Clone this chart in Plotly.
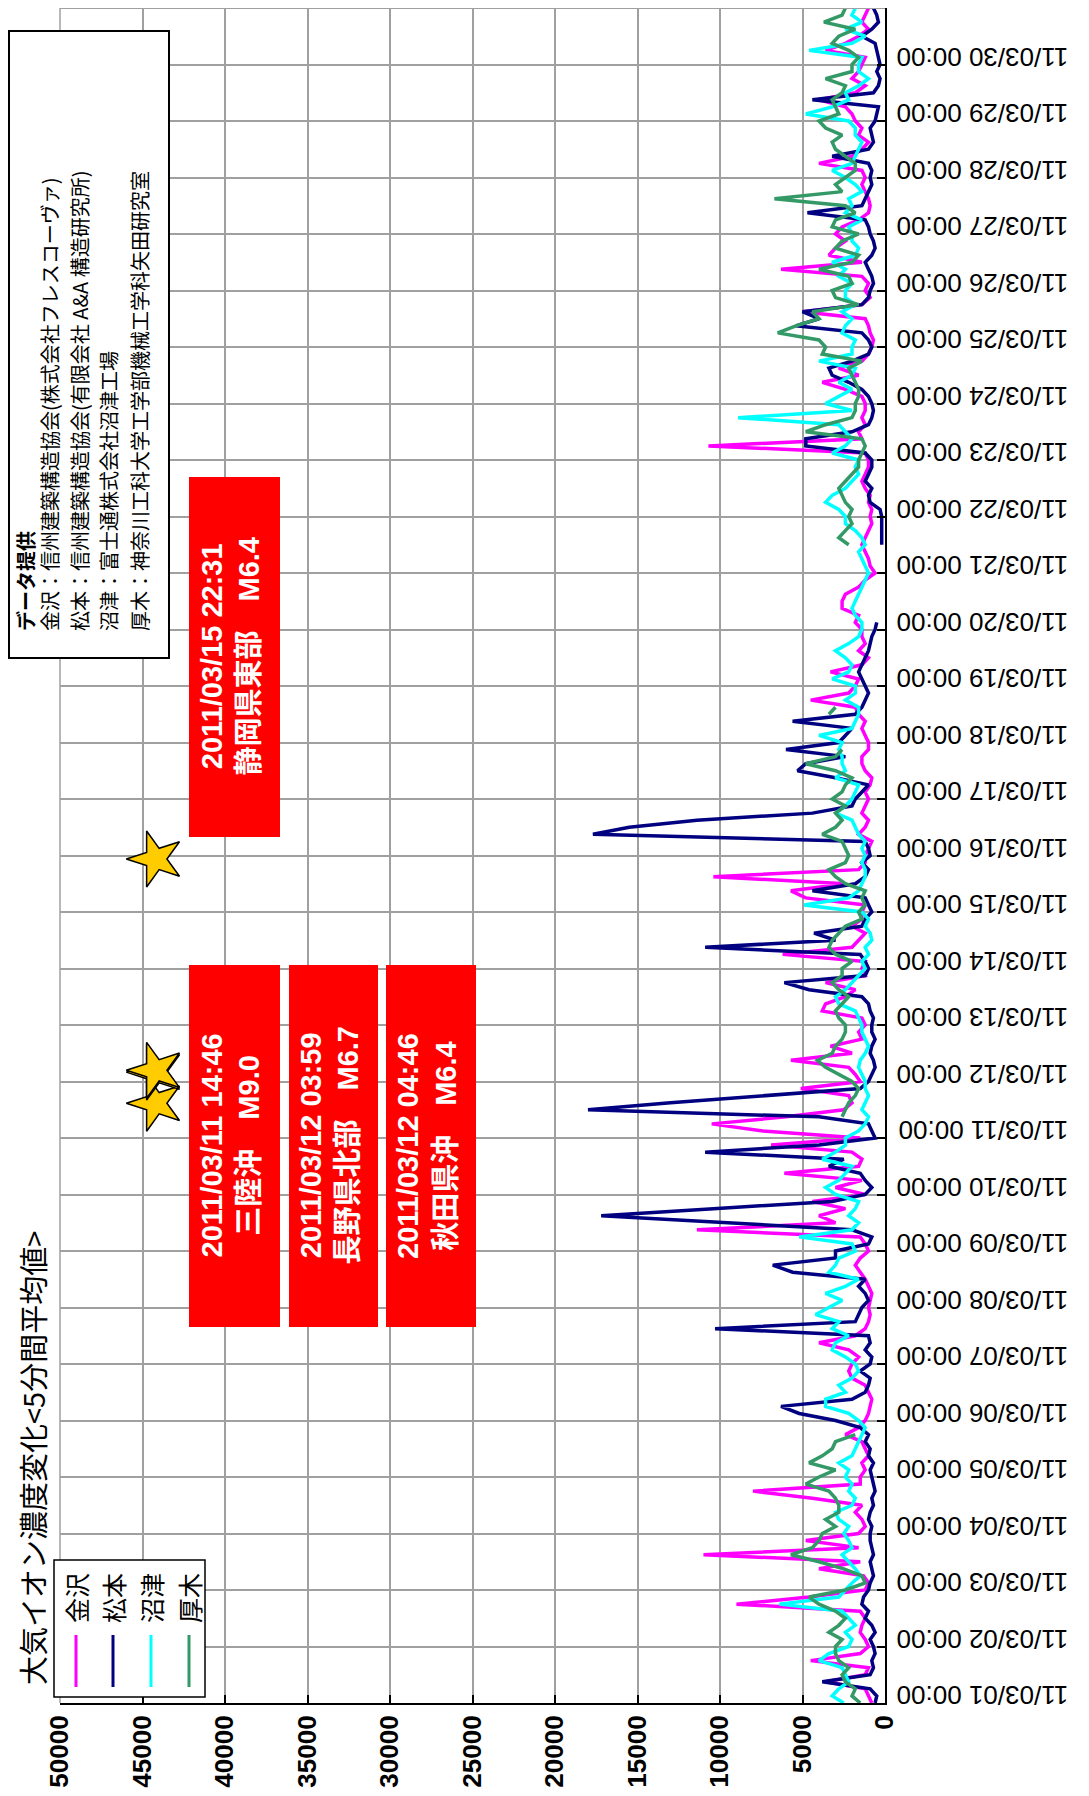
import plotly.graph_objects as go
import pandas as pd

N = None
# 3-hourly readings (8 per day) from 2011-03-01 00:00, plus the 03/31 00:00 end point
kanazawa = [
    800, 1000, 1200, 3600, 1200, 1000, 4500, 1500,
    1000, 1200, 1500, 1400, 1200, 1500, 9000, 4600,
    1200, 1000, 1300, 4000, 1500, 11000, 1600, 4800,
    1600, 1200, 1400, 1800, 1400, 4400, 8000, 1500,
    1500, 1200, 1400, 1000, 1200, 1400, 2400, 1600,
    1200, 1000, 900, 800, 1000, 1200, 2000, 2200,
    2000, 1600, 2200, 4000, 1800, 1200, 1000, 900,
    1000, 900, 800, 1000, 1200, 1500, 1800, 1500,
    1000, 1200, 1500, 11400, 3000, 4000, 2400, 4400,
    1200, 3000, 1400, 6100, 1600, 1400, 2000, 6900,
    1500, 7400, 10500, 6000, 2500, 2000, 2200, 5100,
    1500, 1800, 2200, 5700, 2000, 3300, 1400, 1600,
    1200, 1400, 3800, 3600, 2400, 1800, 3600, 1200,
    1400, 1200, 6200, 2000, 1600, 1200, 2000, 1400,
    1400, 1200, 4800, 5700, 2400, 10400, 1600, 1200,
    1200, 1000, 800, 1600, 1200, 1000, 1400, 1200,
    1000, 1200, 900, 800, 1200, 1400, 1400, 1000,
    1000, 1200, 1400, 1200, 1600, 1800, 4500, 2200,
    1800, 1600, 3300, 1400, 1000, 1600, 1200, 1400,
    1400, 1800, 1600, 2600, 2600, 2400, 1600, 1200,
    600, 900, 1000, 1200, 1400, 1200, 1000, 800,
    900, 800, 1000, 900, 1200, 1400, 1200, 1000,
    1000, 1200, 10700, 1400, 1600, 1200, 1400, 1200,
    1200, 1400, 2400, 3800, 1600, 2800, 1400, 1000,
    800, 700, 900, 1000, 1200, 5000, 1400, 900,
    1200, 1000, 1400, 6300, 1400, 3400, 3000, 2400,
    3000, 2600, 1600, 1000, 900, 1000, 1200, 1400,
    1200, 1400, 4000, 2000, 1400, 1000, 1600, 1400,
    1800, 2000, 2400, 4000, 1800, 1200, 2000, 1600,
    1400, 1200, 3600, 2400, 1600, 1000, 1400, 1200,
    1000,
]
matsumoto = [
    600, 500, 900, 3800, 900, 700, 800, 600,
    700, 900, 600, 800, 1200, 1000, 1400, 1300,
    1000, 900, 700, 800, 900, 700, 800, 900,
    900, 800, 1000, 900, 700, 800, 600, 700,
    800, 900, 700, 1000, 900, 1200, 1000, 1500,
    3000, 5200, 6300, 2000, 1200, 1000, 900, 1500,
    900, 800, 1200, 900, 1000, 10300, 1800, 1600,
    1400, 1000, 1200, 1600, 1200, 5600, 6800, 3000,
    3000, 1000, 800, 2000, 9600, 17200, 10400, 3200,
    1200, 800, 1200, 1500, 3400, 2500, 10900, 4000,
    600, 800, 1000, 4000, 18000, 13000, 7300, 1500,
    1000, 800, 600, 700, 900, 800, 600, 800,
    800, 700, 900, 1000, 1400, 4600, 6100, 1200,
    1000, 1200, 1500, 10900, 3000, 4300, 1400, 1200,
    800, 1000, 1200, 4400, 1800, 1200, 1000, 1400,
    900, 1000, 1200, 17700, 15500, 11400, 4400, 2000,
    1800, 1400, 1000, 3000, 5300, 4800, 2400, 6000,
    2800, 2400, 2000, 5600, 1800, 1400, 1200, 1000,
    1200, 1400, 1600, 1400, 1200, 1000, 900, 800,
    600, 500, N, N, N, N, N, N,
    N, N, N, N, 200, 200, 200, 200,
    200, 300, 900, 1000, 800, 1200, 1000, 800,
    800, 1200, 4800, 4800, 2000, 1000, 800, 700,
    800, 1000, 1400, 2200, 3200, 3400, 2000, 1000,
    800, 1000, 1400, 5400, 4000, 5000, 1400, 1000,
    900, 700, 800, 1000, 1200, 800, 600, 700,
    900, 1000, 1200, 4700, 1400, 1200, 1000, 800,
    900, 800, 1000, 3200, 1000, 700, 800, 900,
    600, 500, 400, 4400, 700, 400, 300, 500,
    300, 400, 500, 600, 1400, 800, 400, 500,
    700,
]
numazu = [
    2500, 3200, 2800, 2200, 2400, 2600, 4000, 3400,
    2200, 2000, 2400, 1800, 2200, 2600, 6400, 2800,
    2400, 2000, 1500, 1800, 2200, 2600, 2000, 2200,
    2500, 2200, 2800, 3000, 2000, 1800, 2200, 2000,
    2400, 2200, 2800, 2000, 1800, 1600, 1400, 1200,
    1600, 2200, 3600, 3600, 2400, 2800, 2000, 1600,
    1800, 2400, 3200, 3000, 2200, 3200, 2800, 4200,
    3400, 2600, 3600, 2400, 1600, 3400, 3000, 2800,
    1800, 2000, 5200, 2000, 1600, 2200, 1800, 1600,
    3000, 3600, 2800, 2400, 2000, 3800, 3000, 2400,
    2400, 1600, 1200, 1000, 1400, 1200, 1000, 1200,
    1200, 1400, 1600, 1500, 1200, 1000, 1200, 1400,
    1400, 1600, 1800, 2800, 3000, 2400, 2000, 1600,
    1200, 1400, 1000, 1200, 800, 900, 1200, 1000,
    1400, 4900, 2200, 1600, 1400, 1200, 1200, 1400,
    1200, 1400, 1200, 1600, 1800, 2000, 3000, 2400,
    2000, 1800, 1600, 3000, 2400, 2600, 2600, 2800,
    2600, 4000, 2000, 1800, 1600, 1600, 2400, 1800,
    1800, 3200, 2200, 2000, 2400, 3000, 2200, 1600,
    1400, 1400, 1800, 2000, 1800, 1600, 1400, 1200,
    1000, 1200, 1400, 1600, 1200, 1400, 1800, 2400,
    2400, 2800, 3600, 3200, 2400, 2000, 1600, 1800,
    1600, 3200, 2400, 2000, 2400, 2800, 8900, 2000,
    3600, 2800, 2000, 2800, 2000, 1800, 4000, 2000,
    2000, 1800, 2600, 2400, 2000, 2600, 1800, 2400,
    2400, 2000, 2800, 2400, 3200, 1800, 1600, 2000,
    2000, 2200, 1400, 2400, 2000, 2200, 1400, 1800,
    2400, 3200, 2000, 1800, 1600, 1400, 1800, 1800,
    2200, 4800, 3200, 2200, 2400, 1600, 1000, 1600,
    1600, 1400, 4600, 2000, 1200, 2400, 1400, 2000,
    1800,
]
atsugi = [
    1500, 2000, 1800, 2400, 2600, 2200, 2800, 3000,
    3000, 2600, 3400, 2800, 2400, 3000, 4000, 4600,
    2400, 1200, 1400, 2500, 4000, 5700, 4400, 4000,
    3800, 3000, 3600, 2800, 2800, 3000, 3400, 4800,
    4000, 3000, 4600, 3800, 3200, 3000, 1800, N,
    N, N, N, N, N, N, N, N,
    N, N, N, N, N, N, N, N,
    N, N, N, N, N, N, N, N,
    N, N, N, N, N, N, N, N,
    N, N, N, N, N, N, N, N,
    N, N, N, 2600, 2400, 2200, 1800, 1600,
    2000, 2800, 3600, 4100, 3200, 3000, 2600, 2400,
    2400, 2800, 3000, 2600, 2200, 2800, 3200, 2600,
    2600, 2000, 3000, 3400, 3200, 2800, 2400, 1400,
    1600, 1200, 1400, 1200, 2400, 3000, 3400, 2400,
    2200, 2400, 2600, 3800, 3000, 2600, 3000, 2400,
    3200, 2600, 2400, 2000, 3000, 4800, 3000, 2600,
    N, N, N, N, 3400, 3000, N, N,
    N, N, N, N, N, N, N, N,
    N, N, N, N, N, N, N, N,
    N, N, N, N, 2200, 2800, 2400, 2000,
    2200, 2000, 2400, 2600, 2800, 2400, 2000, 1600,
    1600, 1400, 1200, 1400, 4800, 3600, 2000, 1800,
    1800, 1600, 1600, 1800, 2000, 2200, 1400, 3800,
    3600, 4000, 6500, 5400, 4000, 4400, 1600, 3000,
    3200, 2000, 2200, 4000, 2000, 1600, 3000, 2600,
    1600, 3200, 3000, 1800, 2400, 6700, 2600, 3000,
    2400, 1800, 1800, 2400, 3000, 3200, 2600, 3600,
    4000, 2800, 3000, 3200, 2600, 2400, 3600, 2000,
    2000, 1600, 2200, 3200, 2800, 1800, 3700, 2600,
    2400,
]

series_names = ["金沢", "松本", "沼津", "厚木"]
series_colors = ["#FF00FF", "#000080", "#00FFFF", "#339966"]
series_values = [kanazawa, matsumoto, numazu, atsugi]

value_ticks = list(range(0, 50001, 5000))
date_ticks = pd.date_range("2011-03-01", "2011-03-30", freq="D")

quake_times = ["2011-03-11 14:46", "2011-03-12 03:59", "2011-03-12 04:46", "2011-03-15 22:31"]
quake_star_value = 44200
quake_labels = [
    "2011/03/11 14:46<br>三陸沖　M9.0",
    "2011/03/12 03:59<br>長野県北部　M6.7",
    "2011/03/12 04:46<br>秋田県沖　M6.4",
    "2011/03/15 22:31<br>静岡県東部　M6.4",
]

source_lines = [
    "<b>データ提供</b>",
    "金沢：信州建築構造協会(株式会社フレスコーヴァ)",
    "松本：信州建築構造協会(有限会社 A&amp;A 構造研究所)",
    "沼津：富士通株式会社沼津工場",
    "厚木：神奈川工科大学工学部機械工学科矢田研究室",
]

times = pd.date_range("2011-03-01 00:00", periods=len(kanazawa), freq="3h")

# ---------------- layout geometry (pixels) ----------------
W, H = 1089, 1796
L, R, T, B = 52, 212, 0, 101
PW, PH = W - L - R, H - T - B


def px(x):
    return (x - L) / PW


def py(y):
    return (T + PH - y) / PH


JP = "Noto Sans CJK JP, sans-serif"
AR = "Liberation Sans, Arial, Noto Sans CJK JP, sans-serif"

fig = go.Figure()
for name, color, vals in zip(series_names, series_colors, series_values):
    fig.add_trace(go.Scatter(x=vals, y=times, mode="lines", name=name,
                             line=dict(color=color, width=3.5), connectgaps=False))

fig.add_trace(go.Scatter(
    x=[quake_star_value] * len(quake_times), y=quake_times, mode="markers",
    marker=dict(symbol="star", size=42, color="#FFCC00", angle=-90,
                line=dict(color="black", width=1.5)),
    showlegend=False))

shapes = []
annotations = []

# top / left frame of the plot area
shapes.append(dict(type="line", xref="paper", yref="paper", x0=0, x1=1, y0=1, y1=1,
                   line=dict(color="#a0a0a0", width=2)))
shapes.append(dict(type="line", xref="paper", yref="paper", x0=0, x1=0, y0=0, y1=1,
                   line=dict(color="#a0a0a0", width=1.5)))

# red earthquake boxes (pixel rectangles)
boxes = [
    (181, 272, 957, 1319, quake_labels[0]),
    (281, 370, 957, 1319, quake_labels[1]),
    (378, 468, 957, 1319, quake_labels[2]),
    (181, 272, 469, 829, quake_labels[3]),
]
for x0, x1, y0, y1, label in boxes:
    shapes.append(dict(type="rect", xref="paper", yref="paper",
                       x0=px(x0), x1=px(x1), y0=py(y1), y1=py(y0),
                       fillcolor="#FF0000", line=dict(width=0), layer="above"))
    annotations.append(dict(xref="paper", yref="paper", x=px((x0 + x1) / 2 - 4), y=py((y0 + y1) / 2),
                            text=label, textangle=-90, showarrow=False, align="center",
                            xanchor="center", yanchor="middle",
                            font=dict(family=AR, size=29, color="white", weight="bold")))

# data source box
shapes.append(dict(type="rect", xref="paper", yref="paper",
                   x0=px(1), x1=px(161), y0=py(650), y1=py(23),
                   fillcolor="white", line=dict(color="black", width=2), layer="above"))
for i, line in enumerate(source_lines):
    xc = [17, 41, 71, 100, 131][i]
    annotations.append(dict(xref="paper", yref="paper", x=px(xc), y=py(625),
                            text=line, textangle=-90, showarrow=False,
                            xanchor="center", yanchor="bottom",
                            font=dict(family=JP, size=20, color="black")))

# legend box
shapes.append(dict(type="rect", xref="paper", yref="paper",
                   x0=px(46), x1=px(197), y0=py(1689), y1=py(1552),
                   fillcolor="white", line=dict(color="black", width=1.5), layer="above"))
for i, (name, color) in enumerate(zip(series_names, series_colors)):
    xc = [68, 105, 143, 181][i]
    shapes.append(dict(type="line", xref="paper", yref="paper",
                       x0=px(xc), x1=px(xc), y0=py(1679), y1=py(1627),
                       line=dict(color=color, width=3), layer="above"))
    annotations.append(dict(xref="paper", yref="paper", x=px(xc), y=py(1590),
                            text=name, textangle=-90, showarrow=False,
                            xanchor="center", yanchor="middle",
                            font=dict(family=JP, size=25, color="black")))

# title
annotations.append(dict(xref="paper", yref="paper", x=px(24), y=py(1679),
                        text="大気イオン濃度変化&lt;5分間平均値&gt;", textangle=-90,
                        showarrow=False, xanchor="center", yanchor="bottom",
                        font=dict(family=JP, size=29, color="black")))

fig.update_layout(
    width=W, height=H,
    margin=dict(l=L, r=R, t=T, b=B, pad=0),
    paper_bgcolor="white", plot_bgcolor="white",
    showlegend=False,
    shapes=shapes, annotations=annotations,
    xaxis=dict(range=[50000, 0], tickvals=value_ticks, ticktext=[str(v) for v in value_ticks],
               tickangle=-90, tickfont=dict(family=AR, size=26, color="black", weight="bold"),
               showgrid=True, gridcolor="#a0a0a0", gridwidth=1.5,
               showline=True, linecolor="black", linewidth=2,
               ticks="inside", ticklen=8, tickcolor="black", tickwidth=1.5,
               zeroline=False),
    yaxis=dict(type="date", range=["2011-03-01", "2011-03-31"], tickvals=list(date_ticks),
               tickformat="%y/%m/%d %H:%M", tickangle=180, side="right",
               ticklabelstandoff=176,
               tickfont=dict(family=AR, size=26, color="black"),
               showgrid=True, gridcolor="#a0a0a0", gridwidth=1.5,
               showline=True, linecolor="black", linewidth=2,
               ticks="inside", ticklen=8, tickcolor="black", tickwidth=1.5,
               zeroline=False),
)

fig.write_html("out.html")
